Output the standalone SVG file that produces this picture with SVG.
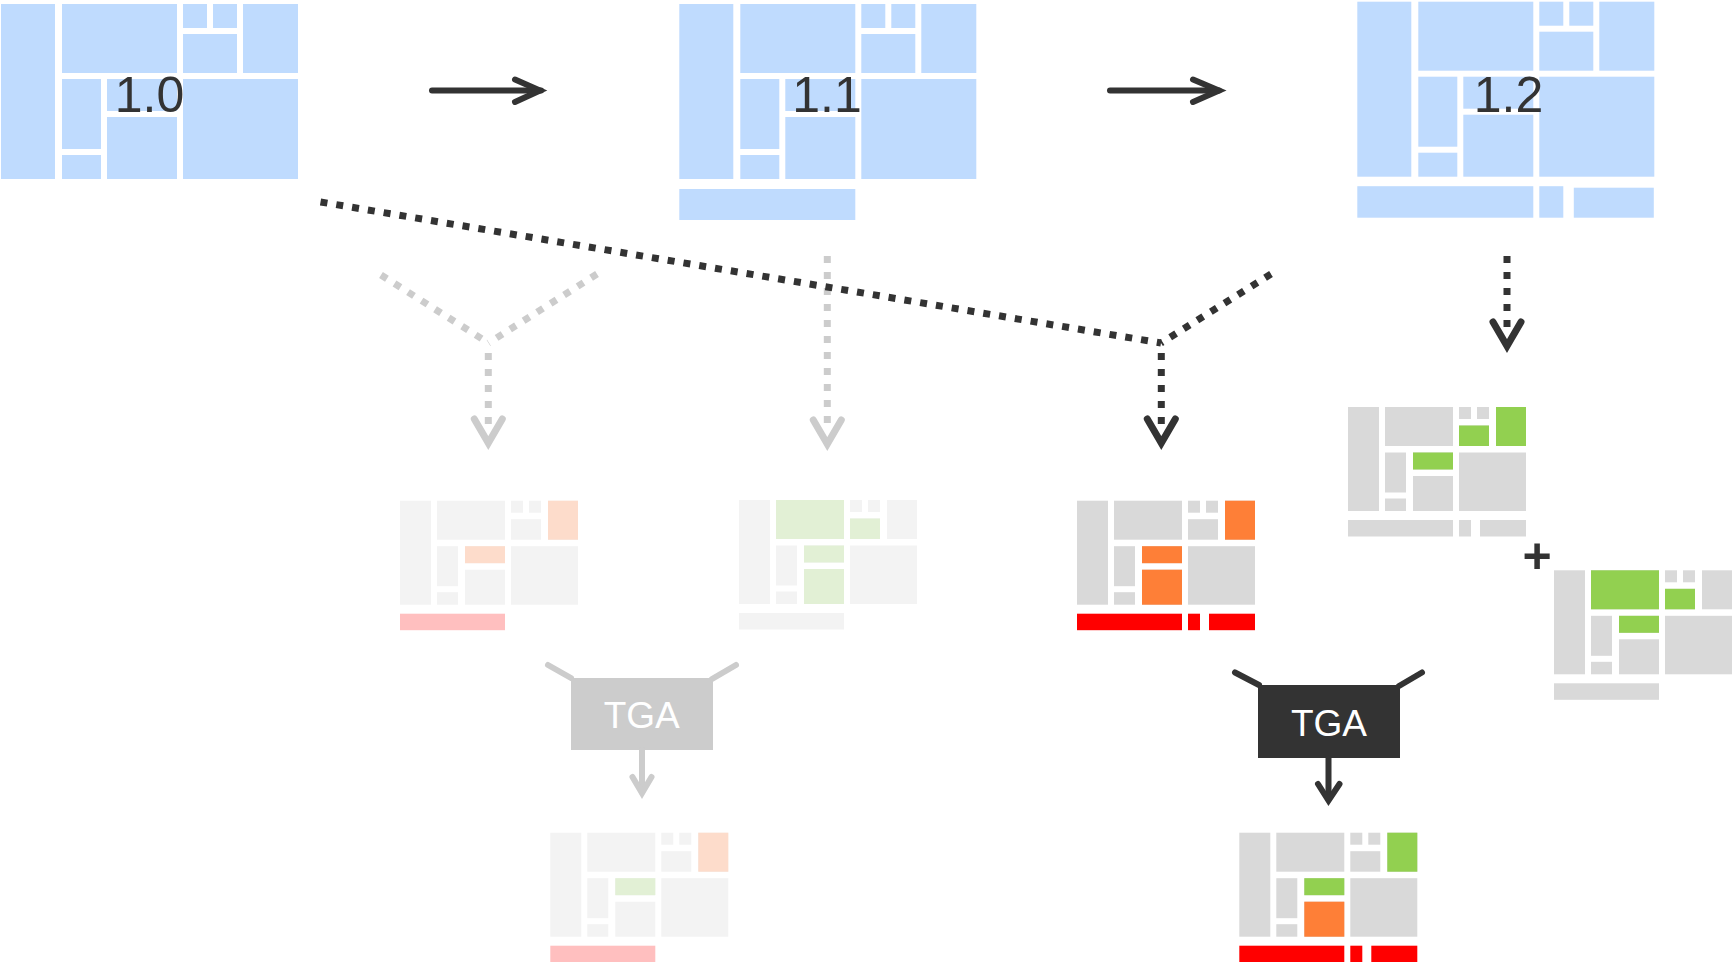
<svg xmlns="http://www.w3.org/2000/svg" xmlns:xlink="http://www.w3.org/1999/xlink" width="1733" height="962" viewBox="0 0 1733 962">
<style>
.lb{fill:#bfdbfe}.gr{fill:#d9d9d9}.fg{fill:#f3f3f3}.or{fill:#fe7f37}.for{fill:#fddccb}
.gn{fill:#92d050}.fgn{fill:#e2f0d5}.rd{fill:#ff0000}.pk{fill:#ffbfbf}
.ver{font-family:"Liberation Sans",Arial,sans-serif;font-size:50px;fill:#333;text-anchor:middle}
.tga{font-family:"Liberation Sans",Arial,sans-serif;font-size:37px;fill:#fff;text-anchor:middle}
.dk{stroke:#333;fill:none}.lt{stroke:#cccccc;fill:none}
.dot{stroke-width:7;stroke-dasharray:7 9}
.chev{stroke-width:7;stroke-linecap:round;stroke-linejoin:miter;fill:none}
.sol{stroke-width:6;stroke-linecap:round;stroke-linejoin:miter;fill:none}
</style>
<defs>
<g id="lg">
<rect x="0" y="0" width="54" height="175"/>
<rect x="61" y="0" width="115" height="69"/>
<rect x="182" y="0" width="24" height="24"/>
<rect x="212" y="0" width="24" height="24"/>
<rect x="182" y="30" width="54" height="39"/>
<rect x="242" y="0" width="55" height="69"/>
<rect x="61" y="75" width="39" height="70"/>
<rect x="61" y="151" width="39" height="24"/>
<rect x="106" y="75" width="70" height="32"/>
<rect x="106" y="113" width="70" height="62"/>
<rect x="182" y="75" width="115" height="100"/>
</g>
<g id="sm">
<rect id="sA" x="0" y="0" width="31" height="104"/>
<rect id="sB" x="37" y="0" width="68" height="39"/>
<rect id="sC1" x="111" y="0" width="12" height="12"/>
<rect id="sC2" x="129" y="0" width="12" height="12"/>
<rect id="sC3" x="111" y="18.5" width="30" height="20.5"/>
<rect id="sD" x="148" y="0" width="30" height="39"/>
<rect id="sE" x="37" y="45.5" width="21" height="40"/>
<rect id="sF" x="37" y="91.5" width="21" height="12.5"/>
<rect id="sG" x="65" y="45.5" width="40" height="17"/>
<rect id="sH" x="65" y="69" width="40" height="35"/>
<rect id="sI" x="111" y="45.5" width="67" height="58.5"/>
</g>
<rect id="b1" x="0" y="113" width="105" height="16.5"/>
<rect id="b2" x="111" y="113" width="12" height="16.5"/>
<rect id="b3" x="132" y="113" width="46" height="16.5"/>
</defs>

<g id="v10">
<g transform="translate(1,4)"><use xlink:href="#lg" class="lb"/></g>
<text class="ver" x="149.5" y="112.3">1.0</text>
</g>
<g id="v11">
<g transform="translate(679.3,4)"><use xlink:href="#lg" class="lb"/>
<rect class="lb" x="0" y="185" width="176" height="31"/></g>
<text class="ver" x="827" y="112.3">1.1</text>
</g>
<g id="v12">
<g transform="translate(1357.3,1.7)"><use xlink:href="#lg" class="lb"/>
<rect class="lb" x="0" y="184.5" width="176" height="31.5"/>
<rect class="lb" x="182" y="184.5" width="24" height="31.5"/>
<rect class="lb" x="216.5" y="186" width="80" height="30"/></g>
<text class="ver" x="1508.5" y="112.3">1.2</text>
</g>

<g id="d1" transform="translate(400,500.7)">
<use xlink:href="#sm" class="fg"/><use xlink:href="#sD" class="for"/><use xlink:href="#sG" class="for"/><use xlink:href="#b1" class="pk"/>
</g>
<g id="d2" transform="translate(739,500)">
<use xlink:href="#sm" class="fg"/><use xlink:href="#sB" class="fgn"/><use xlink:href="#sC3" class="fgn"/><use xlink:href="#sG" class="fgn"/><use xlink:href="#sH" class="fgn"/><use xlink:href="#b1" class="fg"/>
</g>
<g id="d3" transform="translate(1077,500.7)">
<use xlink:href="#sm" class="gr"/><use xlink:href="#sD" class="or"/><use xlink:href="#sG" class="or"/><use xlink:href="#sH" class="or"/><use xlink:href="#b1" class="rd"/><use xlink:href="#b2" class="rd"/><use xlink:href="#b3" class="rd"/>
</g>
<g id="d4" transform="translate(1348,407)">
<use xlink:href="#sm" class="gr"/><use xlink:href="#sC3" class="gn"/><use xlink:href="#sD" class="gn"/><use xlink:href="#sG" class="gn"/><use xlink:href="#b1" class="gr"/><use xlink:href="#b2" class="gr"/><use xlink:href="#b3" class="gr"/>
</g>
<g id="plus"><text x="1537" y="573" font-family="Liberation Sans,Arial,sans-serif" font-size="50" font-weight="bold" fill="#333" text-anchor="middle">+</text></g>
<g id="d5" transform="translate(1554,570.3)">
<use xlink:href="#sm" class="gr"/><use xlink:href="#sB" class="gn"/><use xlink:href="#sC3" class="gn"/><use xlink:href="#sG" class="gn"/><use xlink:href="#b1" class="gr"/>
</g>
<g id="d6" transform="translate(550.3,832.7)">
<use xlink:href="#sm" class="fg"/><use xlink:href="#sD" class="for"/><use xlink:href="#sG" class="fgn"/><use xlink:href="#b1" class="pk"/>
</g>
<g id="d7" transform="translate(1239.3,832.7)">
<use xlink:href="#sm" class="gr"/><use xlink:href="#sD" class="gn"/><use xlink:href="#sG" class="gn"/><use xlink:href="#sH" class="or"/><use xlink:href="#b1" class="rd"/><use xlink:href="#b2" class="rd"/><use xlink:href="#b3" class="rd"/>
</g>

<g id="tga1">
<rect x="571" y="678" width="142" height="72" fill="#cccccc"/>
<text class="tga" x="641.7" y="728.3">TGA</text>
</g>
<g id="tga2">
<rect x="1258" y="685" width="142" height="73" fill="#333333"/>
<text class="tga" x="1329" y="736">TGA</text>
</g>

<g id="connectors">
<path class="dk sol" d="M432 90.6 H541"/>
<path class="dk sol" d="M515 79.5 L540 90.6 L515 102"/>
<path class="dk sol" d="M1110 90.6 H1219"/>
<path class="dk sol" d="M1193 79.5 L1219 90.6 L1193 102"/>
<path class="lt dot" d="M381 275 L488.5 343"/>
<path class="lt dot" d="M597 274 L488.5 343"/>
<path class="lt dot" d="M488.3 353 V424"/>
<path class="lt chev" d="M474.3 419 L488.3 443 L502.3 419"/>
<path class="lt dot" d="M827.3 256 V424"/>
<path class="lt chev" d="M813.3 420 L827.3 444 L841.3 420"/>
<path class="dk dot" d="M320.5 202 L1161 343"/>
<path class="dk dot" d="M1271 274 L1161 343"/>
<path class="dk dot" d="M1161.3 353 V424"/>
<path class="dk chev" d="M1147.3 419 L1161.3 443 L1175.3 419"/>
<path class="dk dot" d="M1507 256 V328"/>
<path class="dk chev" d="M1493 322 L1507 346 L1521 322"/>
<path class="lt sol" d="M548 665 L571 678"/>
<path class="lt sol" d="M736 665 L712 679"/>
<path class="lt sol" d="M642 750 V792"/>
<path class="lt sol" d="M632.5 777 L642 793 L651.5 777"/>
<path class="dk sol" d="M1235 672.5 L1259 685"/>
<path class="dk sol" d="M1422 672.5 L1399 686"/>
<path class="dk sol" d="M1328.5 758 V799"/>
<path class="dk sol" d="M1318 784 L1328.5 800.5 L1339.5 784"/>
</g>
</svg>
